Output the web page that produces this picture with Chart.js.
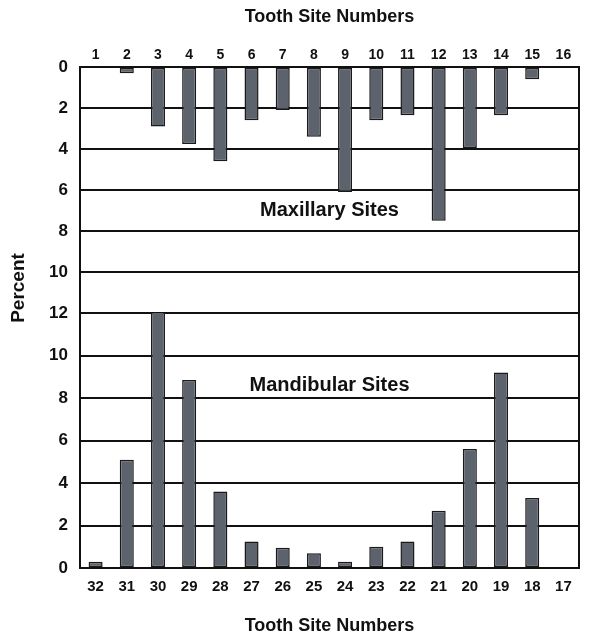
<!DOCTYPE html>
<html><head><meta charset="utf-8">
<script src="https://cdn.jsdelivr.net/npm/chart.js@4.4.1/dist/chart.umd.min.js"></script>
<style>html,body{margin:0;padding:0;background:#fff}#wrap{width:589px;height:639px}</style>
</head><body><div id="wrap"><canvas id="c" width="589" height="639"></canvas></div>
<script>
const maxillarySites = ['1','2','3','4','5','6','7','8','9','10','11','12','13','14','15','16'];
const maxillaryValues = [0, 0.3, 2.9, 3.75, 4.6, 2.6, 2.1, 3.4, 6.1, 2.6, 2.35, 7.5, 3.95, 2.35, 0.6, 0];
const mandibularSites = ['32','31','30','29','28','27','26','25','24','23','22','21','20','19','18','17'];
const mandibularValues = [0.3, 5.1, 12.1, 8.85, 3.6, 1.25, 0.95, 0.7, 0.3, 1.0, 1.25, 2.7, 5.6, 9.2, 3.3, 0];
const yTicks = [0, 2, 4, 6, 8, 10, 12];

const FONT = '"Liberation Sans", Arial, sans-serif';
const barFill = '#5c636d';

const textPlugin = {
  id: 'texts',
  afterDraw(chart) {
    const ctx = chart.ctx, a = chart.chartArea;
    const cx = (a.left + a.right) / 2;
    ctx.save();
    ctx.strokeStyle = '#111'; ctx.lineWidth = 2;
    ctx.beginPath(); ctx.moveTo(a.right, a.top); ctx.lineTo(a.right, a.bottom); ctx.stroke();
    ctx.fillStyle = '#111';
    ctx.textAlign = 'center'; ctx.textBaseline = 'middle';
    ctx.font = 'bold 18px ' + FONT;
    ctx.fillText('Tooth Site Numbers', cx, 17);
    ctx.fillText('Tooth Site Numbers', cx, 626);
    const yT = chart.scales.yTop, yB = chart.scales.yBot;
    ctx.font = 'bold 20px ' + FONT;
    ctx.fillText('Maxillary Sites', cx, yT.getPixelForValue(7.0));
    ctx.fillText('Mandibular Sites', cx, yB.getPixelForValue(8.6));
    ctx.font = 'bold 19px ' + FONT;
    ctx.translate(19, 288); ctx.rotate(-Math.PI/2);
    ctx.fillText('Percent', 0, 0);
    ctx.restore();
  }
};

const gridOpts = { color: '#111', lineWidth: 2, drawTicks: false };
const yCommon = {
  type: 'linear', position: 'left', stack: 'p', min: 0, max: 12,
  afterBuildTicks: (s) => { s.ticks = yTicks.map(v => ({ value: v })); },
  grid: gridOpts,
  border: { display: true, color: '#111', width: 2 },
  ticks: { color: '#111', font: { family: FONT, weight: 'bold', size: 17 }, padding: 12 },
  afterFit: (s) => { s.width = 80; }
};

new Chart(document.getElementById('c'), {
  type: 'bar',
  data: {
    datasets: [
      { label: 'Maxillary', data: maxillaryValues, xAxisID: 'xTop', yAxisID: 'yTop',
        backgroundColor: barFill, borderColor: '#1a1a1a', borderWidth: 1.5, borderSkipped: false, grouped: false,
        barPercentage: 0.45, categoryPercentage: 1 },
      { label: 'Mandibular', data: mandibularValues, xAxisID: 'xBot', yAxisID: 'yBot',
        backgroundColor: barFill, borderColor: '#1a1a1a', borderWidth: 1.5, borderSkipped: false, grouped: false,
        barPercentage: 0.45, categoryPercentage: 1 }
    ]
  },
  options: {
    responsive: false, animation: false,
    layout: { padding: { left: 0, right: 10, top: 0, bottom: 0 } },
    plugins: { legend: { display: false }, tooltip: { enabled: false } },
    scales: {
      xTop: { type: 'category', position: 'top', labels: maxillarySites,
        grid: { display: false, drawTicks: false }, border: { display: true, color: '#111', width: 2 },
        ticks: { color: '#111', font: { family: FONT, weight: 'bold', size: 14 }, padding: 3, maxRotation: 0, autoSkip: false },
        afterFit: (s) => { s.height = 67; } },
      xBot: { type: 'category', position: 'bottom', labels: mandibularSites,
        grid: { display: false, drawTicks: false }, border: { display: true, color: '#111', width: 2 },
        ticks: { color: '#111', font: { family: FONT, weight: 'bold', size: 15 }, padding: 10, maxRotation: 0, autoSkip: false },
        afterFit: (s) => { s.height = 71; } },
      yTop: Object.assign({}, yCommon, { reverse: true, stackWeight: 246, weight: 1 }),
      yBot: Object.assign({}, yCommon, { stackWeight: 255, weight: 0,
        ticks: Object.assign({}, yCommon.ticks, { callback: (v) => v === 12 ? '' : v }) })
    }
  },
  plugins: [textPlugin]
});
</script>
</body></html>
